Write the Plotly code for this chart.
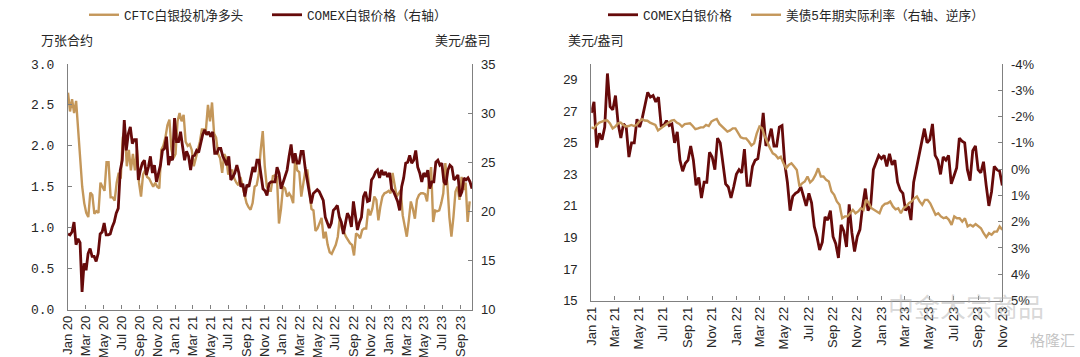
import pandas as pd
import plotly.graph_objects as go

TAN = "#C4975A"
MAROON = "#660A0A"
AXIS = "#808080"
TEXT = "#262626"
CJK = "Liberation Sans, Noto Sans CJK SC"
MONO = "Liberation Mono, Noto Sans CJK SC"

cftc_net_long = [2.65,2.42,2.57,2.40,2.55,2.20,1.85,1.50,1.30,1.18,1.13,1.43,1.40,1.17,1.20,1.18,1.55,1.50,1.45,1.80,1.80,
1.37,1.37,1.33,1.55,1.67,1.60,2.10,2.20,1.75,1.95,1.70,1.90,1.70,1.95,1.55,1.38,1.65,1.70,1.62,1.60,1.55,1.50,1.55,1.50,1.48,
1.95,2.00,2.10,2.25,2.32,1.95,1.85,1.90,2.30,2.40,2.30,2.38,2.05,2.00,2.02,1.95,1.75,1.85,1.95,2.05,2.20,2.20,2.20,2.50,2.30,
2.53,2.15,2.10,1.90,1.85,1.67,1.90,1.85,1.65,1.70,1.70,1.60,1.55,1.52,1.62,1.50,1.40,1.30,1.25,1.22,1.30,1.50,1.52,1.65,1.95,
2.18,1.75,1.50,1.45,1.45,1.63,1.64,1.62,1.05,1.23,1.50,1.48,1.38,1.42,1.38,1.30,1.87,1.70,1.68,1.38,1.54,1.70,1.70,1.50,1.23,
1.21,0.96,0.99,1.05,1.12,0.87,0.95,0.79,0.70,0.68,0.73,0.79,0.89,1.13,0.99,0.95,0.89,0.85,0.81,0.79,0.66,0.93,0.91,0.87,0.97,
0.99,0.99,1.23,1.15,1.23,1.38,1.34,1.09,1.26,1.38,1.42,1.43,1.45,1.42,1.67,1.54,1.38,1.42,1.46,1.15,1.01,0.89,1.09,1.32,1.23,
1.11,1.34,1.40,1.42,1.42,1.41,1.32,1.58,1.74,1.07,1.21,1.20,1.21,1.30,1.42,1.79,1.54,1.13,0.89,1.13,1.44,1.50,1.34,1.62,1.46,
1.55,1.07,1.32]

comex_2020_2023 = [17.7,17.6,17.9,18.9,16.6,17.2,16.8,11.8,14.7,14.0,15.7,16.2,15.4,15.4,14.9,15.7,17.7,17.9,18.8,17.6,17.6,17.7,
18.4,18.9,19.8,20.3,24.2,25.2,29.3,26.2,27.9,28.6,26.9,27.3,27.3,23.2,24.2,24.9,25.2,23.7,24.5,25.6,23.9,24.7,23.0,24.0,24.7,
26.2,26.4,27.6,24.7,25.6,25.2,29.5,27.1,27.1,28.1,26.6,25.2,26.1,25.6,24.2,25.6,25.7,26.2,26.0,26.9,27.8,28.3,27.8,28.1,27.6,
28.1,25.9,25.9,26.4,26.4,25.6,25.2,24.7,25.6,23.2,23.5,23.9,24.7,23.9,22.5,22.8,21.5,22.7,22.5,23.7,24.5,24.0,25.2,25.2,23.5,
22.3,22.1,21.6,22.8,23.0,23.0,23.0,24.5,23.9,22.3,23.0,23.7,24.2,25.6,26.8,24.9,25.9,24.9,24.9,26.1,26.1,24.4,23.2,22.3,20.8,
21.8,22.0,22.2,22.0,21.5,21.1,19.4,18.9,18.3,18.8,20.1,20.3,20.6,19.4,18.9,17.7,18.8,19.8,19.4,18.4,21.0,19.4,18.1,18.9,19.4,
21.5,22.0,21.0,21.1,23.2,23.5,24.0,24.2,23.4,24.2,23.7,24.0,23.5,23.9,22.3,22.0,21.5,21.0,20.1,22.5,23.4,24.9,25.0,25.7,24.9,
25.2,26.2,24.5,23.9,23.0,23.9,23.5,24.2,22.3,23.0,23.0,25.0,25.2,24.7,24.9,23.0,22.7,24.2,24.7,24.5,23.2,23.4,23.7,21.5,22.0,
23.4,23.2,23.4,23.0,22.3]

comex_2021_2023 = [26.9,27.6,24.7,25.6,25.2,26.0,29.4,27.3,27.1,28.0,26.2,25.3,26.2,26.0,24.1,25.0,25.0,26.5,26.0,26.6,27.4,28.2,
27.9,28.0,27.6,27.9,26.1,26.1,26.4,26.1,26.2,25.0,25.7,23.9,23.2,23.7,23.9,24.8,23.9,22.3,22.8,21.5,22.5,22.5,24.4,24.1,23.3,
25.3,25.0,23.5,22.4,22.2,21.5,22.2,23.0,23.3,23.1,24.6,22.3,22.3,23.5,23.9,24.0,25.2,26.9,24.8,25.2,25.9,24.8,24.8,26.0,26.1,
23.7,22.5,20.7,21.6,21.8,21.9,22.2,21.6,21.0,21.8,21.2,19.7,19.05,18.2,18.7,20.3,20.1,20.7,19.05,18.6,17.7,19.8,19.4,18.4,21.1,
19.3,18.1,19.05,19.5,21.0,22.1,20.7,21.0,23.3,23.7,24.2,24.0,24.2,23.5,24.3,23.6,23.9,22.5,22.0,21.8,20.7,21.0,20.1,22.5,23.3,
24.1,25.1,25.9,25.0,25.2,26.2,24.2,23.9,23.0,24.1,23.9,24.2,22.4,22.9,23.4,25.3,25.1,25.0,23.3,22.6,24.5,24.8,23.3,23.1,23.8,
22.3,21.0,21.9,23.5,23.3,23.2,22.3]

real_yield_5y = [-1.59,-1.55,-1.68,-1.77,-1.81,-1.85,-1.85,-1.74,-1.55,-1.62,-1.74,-1.77,-1.68,-1.62,-1.64,-1.68,-1.64,-1.68,-1.81,
-1.90,-1.85,-1.84,-1.77,-1.72,-1.68,-1.47,-1.55,-1.64,-1.72,-1.77,-1.85,-1.87,-1.77,-1.72,-1.62,-1.71,-1.72,-1.74,-1.64,-1.52,
-1.55,-1.59,-1.59,-1.68,-1.64,-1.81,-1.87,-1.91,-1.72,-1.62,-1.55,-1.43,-1.47,-1.55,-1.55,-1.36,-1.21,-1.17,-1.17,-1.05,-0.90,
-0.98,-1.36,-1.62,-1.55,-1.24,-0.98,-0.79,-0.60,-0.54,-0.41,-0.47,-0.22,-0.03,-0.16,-0.22,-0.10,0.03,0.66,0.54,0.47,0.28,0.51,
0.41,0.22,-0.03,0.28,0.28,0.41,0.47,0.85,0.98,1.23,1.36,1.87,1.80,1.80,1.68,1.55,1.68,1.61,1.49,1.55,1.17,1.30,1.49,1.55,1.61,
1.68,1.42,1.32,1.30,1.23,1.42,1.53,1.49,1.68,1.49,1.42,1.30,1.23,1.11,1.04,1.23,1.36,1.17,1.17,1.30,1.49,1.74,1.68,1.80,1.87,
1.83,1.93,2.12,1.80,1.87,1.87,2.00,1.87,2.18,2.12,2.18,2.09,2.18,2.25,2.44,2.59,2.44,2.50,2.38,2.38,2.18,2.31]

ticks_left = pd.date_range("2020-01-01", "2023-09-01", freq="2MS")
ticks_right = pd.date_range("2021-01-01", "2023-11-01", freq="2MS")
tick_labels_left = [d.strftime("%b %y") for d in ticks_left]
tick_labels_right = [d.strftime("%b %y") for d in ticks_right]
rate_ticks = [-4,-3,-2,-1,0,1,2,3,4,5]
rate_labels = ["-4%","-3%","-2%","-1%","0%","1%","2%","3%","4%","5%"]

x_cftc = pd.date_range("2020-01-01", "2023-10-03", periods=len(cftc_net_long))
x_comex_l = pd.date_range("2020-01-01", "2023-10-11", periods=len(comex_2020_2023))
x_comex_r = pd.date_range("2021-01-01", "2023-11-01", periods=len(comex_2021_2023))
x_rate = pd.date_range("2021-01-01", "2023-11-01", periods=len(real_yield_5y))

fig = go.Figure()
fig.add_trace(go.Scatter(x=x_cftc, y=cftc_net_long, name="CFTC白银投机净多头", mode="lines",
                         line=dict(color=TAN, width=2.4), xaxis="x", yaxis="y", legend="legend"))
fig.add_trace(go.Scatter(x=x_comex_l, y=comex_2020_2023, name="COMEX白银价格（右轴）", mode="lines",
                         line=dict(color=MAROON, width=2.8), xaxis="x", yaxis="y2", legend="legend2"))
fig.add_trace(go.Scatter(x=x_comex_r, y=comex_2021_2023, name="COMEX白银价格", mode="lines",
                         line=dict(color=MAROON, width=2.8), xaxis="x2", yaxis="y3", legend="legend3"))
fig.add_trace(go.Scatter(x=x_rate, y=real_yield_5y, name="美债5年期实际利率（右轴、逆序）", mode="lines",
                         line=dict(color=TAN, width=2.4), xaxis="x2", yaxis="y4", legend="legend4"))

W, H = 1080, 357
dom_y1 = [(H-309.5)/H, (H-64)/H]
dom_y2 = [(H-300.5)/H, (H-64)/H]
common_x = dict(showgrid=False, zeroline=False, showline=True, linecolor=AXIS, linewidth=1.2, ticks="inside",
                ticklen=4, tickcolor=AXIS, tickangle=-90, tickfont=dict(family=CJK, size=13, color=TEXT), type="date")
common_y = dict(showgrid=False, zeroline=False, showline=True, linecolor=AXIS, linewidth=1.2, ticks="inside",
                ticklen=4, tickcolor=AXIS, tickfont=dict(family=CJK, size=13, color=TEXT))

def legend_at(px):
    return dict(orientation="h", x=px/W, y=1.0, xanchor="left", yanchor="top",
                font=dict(family=MONO, size=12.7, color=TEXT), itemwidth=30, bgcolor="rgba(0,0,0,0)")

fig.update_layout(
    width=W, height=H, autosize=False, margin=dict(l=0, r=0, t=0, b=0, autoexpand=False),
    paper_bgcolor="white", plot_bgcolor="white", showlegend=True,
    xaxis=dict(common_x, domain=[68/W, 472.3/W], anchor="y", range=["2020-01-01", "2023-10-12"],
               tickvals=list(ticks_left), ticktext=tick_labels_left),
    yaxis=dict(common_y, domain=dom_y1, anchor="x", range=[0, 3], tickvals=[0,0.5,1,1.5,2,2.5,3],
               ticktext=["0.0","0.5","1.0","1.5","2.0","2.5","3.0"], tickfont=dict(family=MONO, size=13, color=TEXT),
               ticklabelstandoff=10),
    yaxis2=dict(common_y, domain=dom_y1, anchor="x", overlaying="y", side="right", range=[10, 35], dtick=5,
                ticklabelstandoff=5),
    xaxis2=dict(common_x, domain=[591.3/W, 1002.3/W], anchor="y3", range=["2021-01-01", "2023-11-01"],
                tickvals=list(ticks_right), ticktext=tick_labels_right),
    yaxis3=dict(common_y, domain=dom_y2, anchor="x2", range=[15, 30], tickvals=[15,17,19,21,23,25,27,29],
                ticks="", ticklabelstandoff=10),
    yaxis4=dict(common_y, domain=dom_y2, anchor="x2", overlaying="y3", side="right", range=[5, -4],
                tickvals=rate_ticks, ticktext=rate_labels, ticklabelstandoff=5),
    legend=legend_at(84), legend2=legend_at(267), legend3=legend_at(603), legend4=legend_at(746),
    annotations=[
        dict(text="万张合约", xref="paper", yref="paper", x=39/W, y=1-40/H, xanchor="left", yanchor="middle",
             showarrow=False, font=dict(family=CJK, size=13, color=TEXT)),
        dict(text="美元/盎司", xref="paper", yref="paper", x=433/W, y=1-40/H, xanchor="left", yanchor="middle",
             showarrow=False, font=dict(family=CJK, size=13, color=TEXT)),
        dict(text="美元/盎司", xref="paper", yref="paper", x=566/W, y=1-40/H, xanchor="left", yanchor="middle",
             showarrow=False, font=dict(family=CJK, size=13, color=TEXT)),
        dict(text="中金大宗商品", xref="paper", yref="paper", x=886/W, y=1-308/H, xanchor="left", yanchor="middle",
             showarrow=False, font=dict(family=CJK, size=26, color="rgba(170,170,170,0.45)")),
        dict(text="格隆汇", xref="paper", yref="paper", x=1028/W, y=1-340/H, xanchor="left", yanchor="middle",
             showarrow=False, font=dict(family=CJK, size=15, color="rgba(170,170,170,0.7)")),
    ],
)
fig.write_html("out.html", config={"displayModeBar": False},
               post_script="document.body.style.margin='0';document.body.style.overflow='hidden';")
